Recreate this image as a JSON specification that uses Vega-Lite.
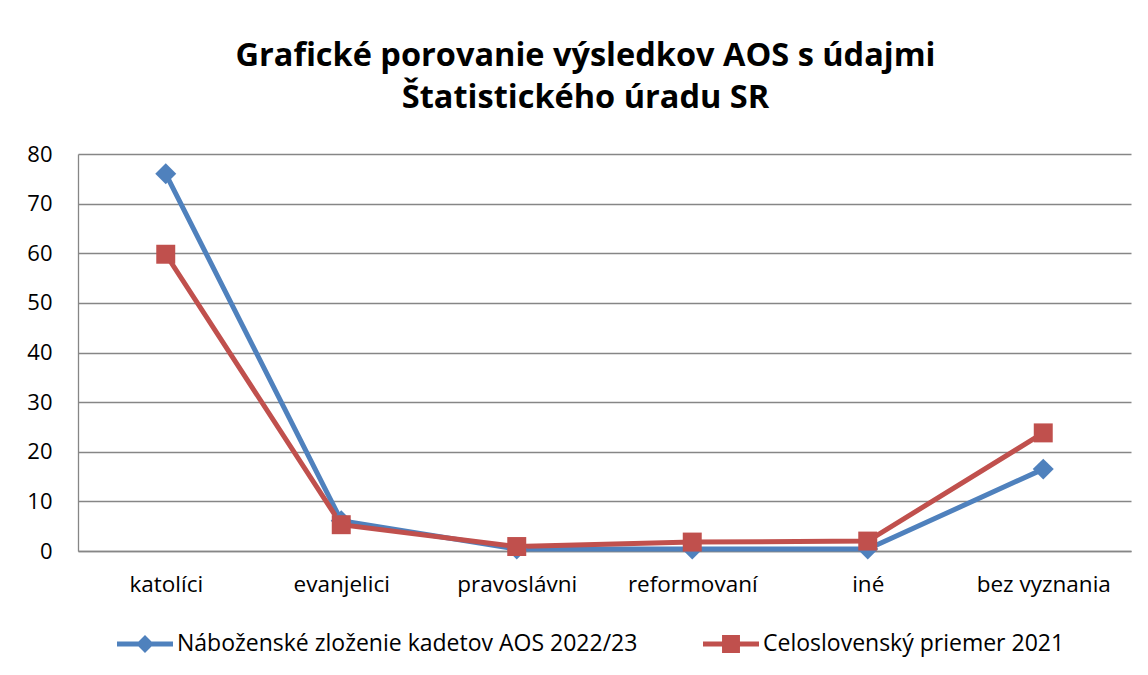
{
  "$schema": "https://vega.github.io/schema/vega-lite/v6.json",
  "autosize": "none",
  "width": 1053,
  "height": 397,
  "padding": {"left": 78, "top": 154, "right": 17, "bottom": 124},
  "background": "white",
  "config": {
    "font": "Open Sans",
    "view": {"stroke": null}
  },
  "title": {
    "text": ["Grafické porovanie výsledkov AOS s údajmi", "Štatistického úradu SR"],
    "font": "Open Sans",
    "fontSize": 32.5,
    "fontWeight": "bold",
    "color": "#000000",
    "anchor": "middle",
    "frame": "group",
    "dx": -19,
    "offset": 29,
    "lineHeight": 42
  },
  "data": {
    "values": [
      {"kategoria": "katolíci", "seria": "Náboženské zloženie kadetov AOS 2022/23", "hodnota": 76},
      {"kategoria": "evanjelici", "seria": "Náboženské zloženie kadetov AOS 2022/23", "hodnota": 6.1},
      {"kategoria": "pravoslávni", "seria": "Náboženské zloženie kadetov AOS 2022/23", "hodnota": 0.4},
      {"kategoria": "reformovaní", "seria": "Náboženské zloženie kadetov AOS 2022/23", "hodnota": 0.4},
      {"kategoria": "iné", "seria": "Náboženské zloženie kadetov AOS 2022/23", "hodnota": 0.4},
      {"kategoria": "bez vyznania", "seria": "Náboženské zloženie kadetov AOS 2022/23", "hodnota": 16.5},
      {"kategoria": "katolíci", "seria": "Celoslovenský priemer 2021", "hodnota": 59.8},
      {"kategoria": "evanjelici", "seria": "Celoslovenský priemer 2021", "hodnota": 5.3},
      {"kategoria": "pravoslávni", "seria": "Celoslovenský priemer 2021", "hodnota": 0.9},
      {"kategoria": "reformovaní", "seria": "Celoslovenský priemer 2021", "hodnota": 1.8},
      {"kategoria": "iné", "seria": "Celoslovenský priemer 2021", "hodnota": 2.0},
      {"kategoria": "bez vyznania", "seria": "Celoslovenský priemer 2021", "hodnota": 23.8}
    ]
  },
  "encoding": {
    "x": {
      "field": "kategoria",
      "type": "nominal",
      "sort": ["katolíci", "evanjelici", "pravoslávni", "reformovaní", "iné", "bez vyznania"],
      "scale": {"paddingInner": 0, "paddingOuter": 0.5},
      "axis": {
        "title": null,
        "labelAngle": 0,
        "labelFontSize": 22.5,
        "labelColor": "#000000",
        "labelPadding": 22,
        "ticks": false,
        "domainColor": "#868686",
        "domainWidth": 1.3,
        "grid": false
      }
    },
    "y": {
      "field": "hodnota",
      "type": "quantitative",
      "scale": {"domain": [0, 80], "nice": false},
      "axis": {
        "title": null,
        "values": [0, 10, 20, 30, 40, 50, 60, 70, 80],
        "labelFontSize": 22,
        "labelColor": "#000000",
        "labelPadding": 26,
        "ticks": false,
        "domainColor": "#868686",
        "domainWidth": 1.3,
        "gridColor": "#868686",
        "gridWidth": 1.3
      }
    },
    "color": {
      "field": "seria",
      "type": "nominal",
      "scale": {
        "domain": ["Náboženské zloženie kadetov AOS 2022/23", "Celoslovenský priemer 2021"],
        "range": ["#4F81BD", "#C0504D"]
      },
      "legend": {
        "title": null,
        "orient": "none",
        "legendX": 39,
        "legendY": 462,
        "direction": "horizontal",
        "columns": 2,
        "columnPadding": 65,
        "labelFontSize": 23,
        "labelColor": "#000000",
        "labelOffset": 4,
        "labelLimit": 700,
        "symbolSize": 3136,
        "symbolStrokeWidth": 0,
        "symbolOpacity": 1,
        "encode": {
          "symbols": {
            "update": {
              "shape": {"signal": "datum.value == 'Celoslovenský priemer 2021' ? 'M-1,-0.09H1V0.09H-1Z M-0.32,-0.32H0.32V0.32H-0.32Z' : 'M-1,-0.09H1V0.09H-1Z M0,-0.32L0.32,0L0,0.32L-0.32,0Z'"},
              "fill": {"signal": "datum.value == 'Celoslovenský priemer 2021' ? '#C0504D' : '#4F81BD'"},
              "opacity": {"value": 1},
              "strokeWidth": {"value": 0}
            }
          }
        }
      }
    }
  },
  "layer": [
    {
      "mark": {"type": "line", "strokeWidth": 5}
    },
    {
      "transform": [{"filter": "datum.seria == 'Náboženské zloženie kadetov AOS 2022/23'"}],
      "mark": {"type": "point", "shape": "diamond", "filled": true, "opacity": 1, "size": 440}
    },
    {
      "transform": [{"filter": "datum.seria == 'Celoslovenský priemer 2021'"}],
      "mark": {"type": "point", "shape": "square", "filled": true, "opacity": 1, "size": 360}
    }
  ]
}
